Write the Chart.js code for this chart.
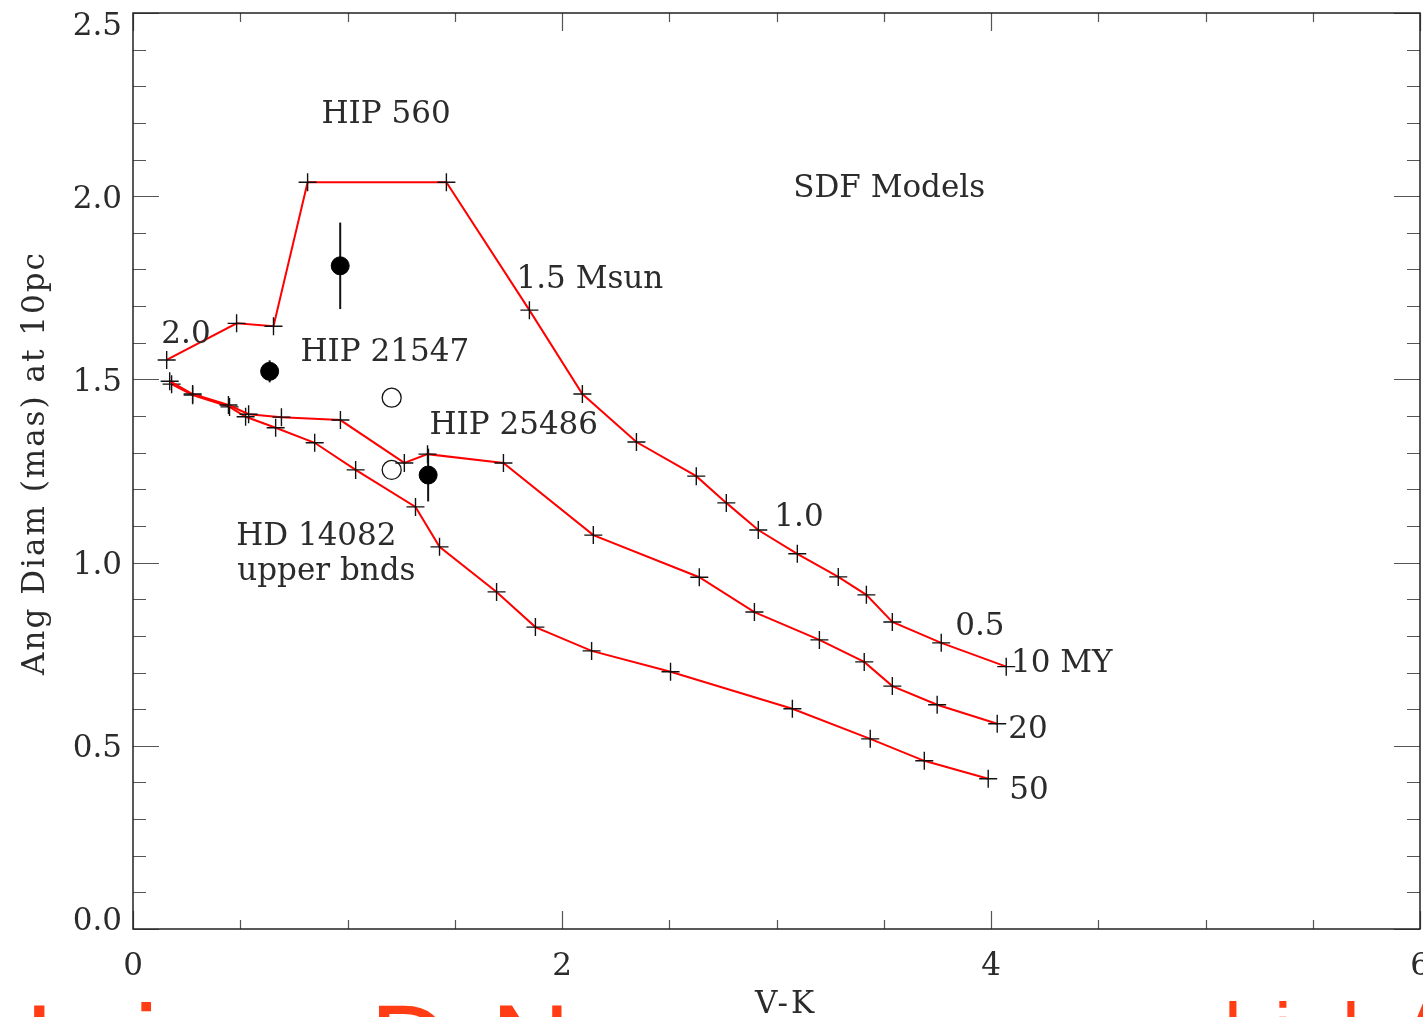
<!DOCTYPE html>
<html>
<head>
<meta charset="utf-8">
<title>SDF Models - Ang Diam x V-K</title>
<script src="https://cdn.jsdelivr.net/npm/chart.js@4.4.1/dist/chart.umd.min.js"></script>
<style>
  html, body { margin: 0; padding: 0; background: #fff; overflow: hidden; }
  #wrap { width: 1423px; height: 1017px; position: relative; }
</style>
</head>
<body>
<div id="wrap"><canvas id="grafico" width="1423" height="1017"></canvas></div>
<script>
// isochrones (SDF models), one marker per mass step
const vk10 = [0.157, 0.483, 0.655, 0.814, 1.461, 1.848, 2.095, 2.347, 2.626, 2.766, 2.915, 3.097, 3.288, 3.419, 3.540, 3.768, 4.071];
const diam10 = [1.553, 1.653, 1.645, 2.038, 2.038, 1.689, 1.460, 1.329, 1.236, 1.163, 1.089, 1.024, 0.961, 0.912, 0.838, 0.781, 0.716];

const vk20 = [0.171, 0.278, 0.445, 0.539, 0.692, 0.967, 1.265, 1.373, 1.727, 2.146, 2.640, 2.897, 3.200, 3.409, 3.540, 3.749, 4.029];
const diam20 = [1.495, 1.460, 1.430, 1.405, 1.397, 1.389, 1.272, 1.296, 1.272, 1.075, 0.960, 0.865, 0.789, 0.729, 0.663, 0.612, 0.560];

const vk50 = [0.180, 0.278, 0.450, 0.525, 0.665, 0.847, 1.038, 1.317, 1.429, 1.695, 1.876, 2.138, 2.506, 3.074, 3.437, 3.689, 3.987];
const diam50 = [1.487, 1.457, 1.425, 1.398, 1.368, 1.327, 1.253, 1.152, 1.043, 0.920, 0.824, 0.759, 0.702, 0.601, 0.519, 0.459, 0.410];

// measured stars
const starNames = ["HIP 560", "HIP 21547", "HIP 25486"];
const starVK = [0.966, 0.637, 1.376];
const starDiam = [1.810, 1.522, 1.239];
const starErr = [0.118, 0.030, 0.072];

// HD 14082 upper bounds
const hdVK = [1.206, 1.206];
const hdDiam = [1.450, 1.253];

const xTicks = [0, 2, 4, 6];
const yTicks = [0, 0.5, 1.0, 1.5, 2.0, 2.5];

// text notes, placed in data units (left edge, baseline)
const notas = [
  { text: "HIP 560", x: 0.879, y: 2.199 },
  { text: "SDF Models", x: 3.078, y: 1.997 },
  { text: "1.5 Msun", x: 1.788, y: 1.749 },
  { text: "2.0", x: 0.132, y: 1.598 },
  { text: "HIP 21547", x: 0.781, y: 1.550 },
  { text: "HIP 25486", x: 1.382, y: 1.351 },
  { text: "HD 14082", x: 0.481, y: 1.048 },
  { text: "upper bnds", x: 0.486, y: 0.952 },
  { text: "1.0", x: 2.990, y: 1.100 },
  { text: "0.5", x: 3.833, y: 0.802 },
  { text: "10 MY", x: 4.093, y: 0.702 },
  { text: "20", x: 4.080, y: 0.522 },
  { text: "50", x: 4.085, y: 0.356 },
];

// tops of the red heading that sits under the figure
const rodape = [
  { t: "I", x: 24, size: 110, base: 1081 },
  { t: "i", x: 134, size: 110, base: 1081 },
  { t: "D", x: 370, size: 110, base: 1081 },
  { t: "N", x: 491, size: 110, base: 1081 },
  { t: "l", x: 1224, size: 80, base: 1059 },
  { t: "i", x: 1274, size: 80, base: 1059 },
  { t: "l", x: 1342, size: 80, base: 1059 },
  { t: "A", x: 1400, size: 80, base: 1059 },
];

const SERIF = "'DejaVu Serif', serif";
const TINTA = "#2b2b2b";

function pontos(xs, ys) {
  return xs.map((v, i) => ({ x: v, y: ys[i] }));
}

function isocrona(rotulo, xs, ys) {
  return {
    label: rotulo,
    data: pontos(xs, ys),
    showLine: true,
    borderColor: "#ff0000",
    borderWidth: 2,
    tension: 0,
    pointStyle: "cross",
    pointRadius: 9,
    pointBorderColor: "#111",
    pointBorderWidth: 1.4,
    order: 3,
  };
}

const barras = starVK.map((v, i) => ({
  label: starNames[i] + " err",
  data: [
    { x: v, y: starDiam[i] - starErr[i] },
    { x: v, y: starDiam[i] + starErr[i] },
  ],
  showLine: true,
  borderColor: "#111",
  borderWidth: 2,
  pointRadius: 0,
  order: 2,
}));

const moldura = {
  id: "moldura",
  afterDraw(chart) {
    const { ctx, chartArea: a, scales } = chart;
    const x = scales.x;
    const y = scales.y;
    ctx.save();

    // minor / major ticks on all four sides
    ctx.strokeStyle = "#555";
    ctx.lineWidth = 1.2;
    ctx.beginPath();
    for (let i = 0; i <= 12; i++) {
      const px = Math.round(x.getPixelForValue(i / 2)) + 0.5;
      const len = i % 4 === 0 ? 18 : 9;
      ctx.moveTo(px, a.bottom);
      ctx.lineTo(px, a.bottom - len);
      ctx.moveTo(px, a.top);
      ctx.lineTo(px, a.top + len);
    }
    for (let i = 0; i <= 25; i++) {
      const py = Math.round(y.getPixelForValue(i / 10)) + 0.5;
      const len = i % 5 === 0 ? 26 : 13;
      ctx.moveTo(a.left, py);
      ctx.lineTo(a.left + len, py);
      ctx.moveTo(a.right, py);
      ctx.lineTo(a.right - len, py);
    }
    ctx.stroke();

    ctx.strokeStyle = "#222";
    ctx.lineWidth = 1.5;
    ctx.strokeRect(a.left, a.top, a.right - a.left, a.bottom - a.top);

    // tick labels
    ctx.fillStyle = TINTA;
    ctx.font = "31px " + SERIF;
    ctx.textBaseline = "alphabetic";
    ctx.textAlign = "right";
    y.ticks.forEach((t) => {
      let py = y.getPixelForValue(t.value);
      py = Math.min(Math.max(py, a.top + 10), a.bottom - 11);
      ctx.fillText(t.value.toFixed(1), a.left - 11, py + 11.5);
    });
    ctx.textAlign = "center";
    x.ticks.forEach((t) => {
      ctx.fillText(String(t.value), x.getPixelForValue(t.value), 975);
    });

    // axis titles
    ctx.letterSpacing = "3px";
    ctx.fillText("V-K", 786, 1013);
    ctx.save();
    ctx.letterSpacing = "2px";
    ctx.translate(44, 463);
    ctx.rotate(-Math.PI / 2);
    ctx.fillText("Ang Diam (mas) at 10pc", 0, 0);
    ctx.restore();
    ctx.letterSpacing = "0px";

    // notes
    ctx.textAlign = "left";
    notas.forEach((n) => {
      ctx.fillText(n.text, x.getPixelForValue(n.x), y.getPixelForValue(n.y));
    });

    // red heading below, cut by the page edge
    ctx.fillStyle = "#ff3c14";
    rodape.forEach((g) => {
      ctx.font = g.size + "px 'Liberation Sans', Arial, sans-serif";
      ctx.fillText(g.t, g.x, g.base);
    });

    ctx.restore();
  },
};

const ctx = document.getElementById("grafico");

window.grafico = new Chart(ctx, {
  type: "scatter",
  data: {
    datasets: [
      {
        label: "stars",
        data: pontos(starVK, starDiam),
        pointRadius: 9,
        pointBackgroundColor: "#000",
        pointBorderColor: "#000",
        pointBorderWidth: 1,
        order: 1,
      },
      {
        label: "HD 14082 upper bnds",
        data: pontos(hdVK, hdDiam),
        pointRadius: 9.5,
        pointBackgroundColor: "rgba(0,0,0,0)",
        pointBorderColor: "#111",
        pointBorderWidth: 1.3,
        order: 1,
      },
      ...barras,
      isocrona("10 MY", vk10, diam10),
      isocrona("20 MY", vk20, diam20),
      isocrona("50 MY", vk50, diam50),
    ],
  },
  options: {
    responsive: false,
    animation: false,
    events: [],
    layout: { autoPadding: false, padding: { top: 13, right: 3, left: 0, bottom: 0 } },
    plugins: {
      legend: { display: false },
      tooltip: { enabled: false },
    },
    scales: {
      x: {
        type: "linear",
        min: 0,
        max: 6,
        grid: { display: false },
        border: { display: false },
        ticks: { display: false },
        afterBuildTicks: (s) => {
          s.ticks = xTicks.map((v) => ({ value: v }));
        },
        afterFit: (s) => {
          s.height = 88;
        },
      },
      y: {
        type: "linear",
        min: 0,
        max: 2.5,
        grid: { display: false },
        border: { display: false },
        ticks: { display: false },
        afterBuildTicks: (s) => {
          s.ticks = yTicks.map((v) => ({ value: v }));
        },
        afterFit: (s) => {
          s.width = 133;
        },
      },
    },
  },
  plugins: [moldura],
});
</script>
</body>
</html>
